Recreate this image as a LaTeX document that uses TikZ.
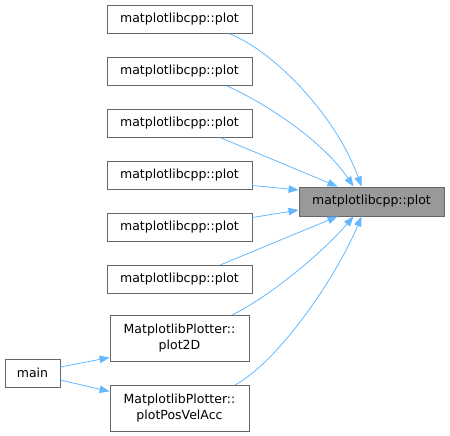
\documentclass[tikz,border=0pt]{standalone}
\usepackage{fontspec}
\setmainfont{DejaVu Sans}
\usetikzlibrary{arrows.meta}
\definecolor{edgeblue}{HTML}{63B8FF}
\definecolor{boxgray}{HTML}{666666}
\definecolor{curgray}{HTML}{999999}
\begin{document}
\begin{tikzpicture}[x=1pt, y=-1pt, font=\fontsize{12.5}{16}\selectfont,
    fnbox/.style={draw=boxgray, line width=0.9pt, fill=white, inner sep=0pt, minimum width=145pt, minimum height=28pt, align=center},
    curbox/.style={fnbox, fill=curgray, minimum height=29pt},
    twobox/.style={fnbox, minimum width=139pt, minimum height=46pt},
    callarr/.style={-{Triangle[length=10pt,width=7.5pt]}, edgeblue, line width=0.8pt}]
  \useasboundingbox (0,0) rectangle (450,436);
  \node[curbox] (tgt) at (371.5,201.5) {matplotlibcpp::plot};
  \foreach \i/\y in {1/19.5,2/71.5,3/123.5,4/175.5,5/227.5,6/279.5}
    \node[fnbox] (p\i) at (179.5,\y) {matplotlibcpp::plot};
  \node[twobox] (plot2d) at (179.5,338.5) {MatplotlibPlotter::\\plot2D};
  \node[twobox] (posvelacc) at (179.5,408.5) {MatplotlibPlotter::\\plotPosVelAcc};
  \node[fnbox, minimum width=55pt] (main) at (32.5,373) {main};
  \draw[callarr] ([xshift=50.5pt]p1.south) .. controls +(45,18) and +(-25,-70) .. ([xshift=-10pt]tgt.north);
  \draw[callarr] ([xshift=47.5pt]p2.south) .. controls +(40,18) and +(-30,-45) .. ([xshift=-18pt]tgt.north);
  \draw[callarr] ([xshift=41.5pt]p3.south) -- ([xshift=-34pt]tgt.north);
  \draw[callarr] ([yshift=-10pt]p4.east) -- ([yshift=11.5pt]tgt.west);
  \draw[callarr] ([yshift=10pt]p5.east) -- ([yshift=-8.5pt]tgt.west);
  \draw[callarr] ([xshift=40.5pt]p6.north) -- ([xshift=-34pt]tgt.south);
  \draw[callarr] ([xshift=52.5pt]plot2d.north) .. controls +(40,-20) and +(-30,35) .. ([xshift=-18pt]tgt.south);
  \draw[callarr] ([xshift=55.5pt]posvelacc.north) .. controls +(45,-25) and +(-25,60) .. ([xshift=-10pt]tgt.south);
  \draw[callarr] ([yshift=6pt]main.east) -- ([yshift=-19pt]plot2d.west);
  \draw[callarr] ([yshift=-7pt]main.east) -- ([yshift=17pt]posvelacc.west);
\end{tikzpicture}
\end{document}
